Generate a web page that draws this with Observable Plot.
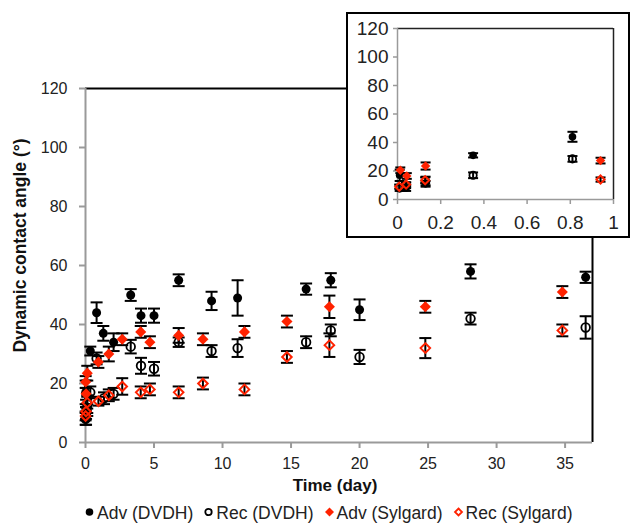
<!DOCTYPE html>
<html><head><meta charset="utf-8">
<script src="https://cdn.jsdelivr.net/npm/d3@7"></script>
<script src="https://cdn.jsdelivr.net/npm/@observablehq/plot@0.6"></script>
<style>
body{margin:0;background:#fff;font-family:"Liberation Sans",Arial,sans-serif;}
#wrap{position:relative;width:630px;height:523px;overflow:hidden;}
#main svg{display:block;}
#inset{position:absolute;left:346px;top:12px;}
#inset svg{border:2px solid #000;display:block;background:#fff;}
#legend{position:absolute;left:84px;top:500px;height:26px;display:flex;align-items:center;font-size:17.5px;color:#222;white-space:nowrap;}
#legend .item{display:flex;align-items:center;margin-right:10px;}
#legend svg{margin-right:2px;}
</style></head><body>
<div id="wrap"><div id="main"></div><div id="inset"></div><div id="legend"></div></div>
<script>
// [day, angle, error]
const advDVDH = [[0.01,17,4],[0.04,8,2],[0.13,11,2],[0.35,31,1.5],[0.81,44,3.5],[1.3,37,2.5],[2.05,34,3],[3.3,50,2],[4.05,43,2.4],[5.0,43,2.4],[6.8,55,2],[9.2,48,3.1],[11.1,49,6],[16.1,52,1.9],[17.9,55,2.4],[20.0,45,3.5],[28.1,58,2.4],[36.5,56,1.9]];
const recDVDH = [[0.01,8,2],[0.04,10,2],[0.13,13,3],[0.35,17,2],[0.81,28.5,2],[1.35,15,2],[2.05,16.5,2],[3.3,32.5,2.3],[4.05,26,2.7],[5.0,25,2.3],[6.8,34,1.6],[9.2,31,2],[11.1,32,3],[16.1,34,2],[17.9,38,2],[20.0,29,2.4],[28.1,42,2],[36.5,39,3.8]];
const advSylgard = [[0.013,20.5,2],[0.043,16.5,2],[0.13,23.5,2.5],[0.94,27.3,2],[1.7,30,2.5],[2.68,35,2],[4.03,37.5,2],[4.7,34,2],[6.8,36.3,2.5],[8.57,35,2],[11.6,37.5,2],[14.7,41,2],[17.8,46,3.8],[24.8,46,2],[34.8,51,2]];
const recSylgard = [[0.008,9,1.5],[0.04,10.5,1.5],[0.128,13.5,2],[0.94,14,1.5],[1.7,16,2],[2.68,19,2.8],[4.03,17,2],[4.7,18,2],[6.8,17,2],[8.57,20,2],[11.6,18,2],[14.7,29,2],[17.8,33,4],[24.8,32,3.4],[34.8,38,2]];
const seriesNames = ["Adv (DVDH)","Rec (DVDH)","Adv (Sylgard)","Rec (Sylgard)"];
const mainYTicks = [0,20,40,60,80,100,120];
const mainXTicks = [0,5,10,15,20,25,30,35];
const insetYTicks = [0,20,40,60,80,100,120];
const insetXTicks = [0,0.2,0.4,0.6,0.8,1];
const xLabel = "Time (day)";
const yLabel = "Dynamic contact angle (°)";

const RED = "#ff2200";
const series = [
  {data: advDVDH, symbol: "circle", fill: "#000", stroke: "none", r: 4.5, sw: 0},
  {data: recDVDH, symbol: "circle", fill: "none", stroke: "#000", r: 4.3, sw: 1.8},
  {data: advSylgard, symbol: "diamond2", fill: RED, stroke: "none", r: 5, sw: 0},
  {data: recSylgard, symbol: "diamond2", fill: "none", stroke: RED, r: 4.3, sw: 2}
];
const cap = {draw(ctx, size){const r = Math.sqrt(size/Math.PI); ctx.moveTo(-r,0); ctx.lineTo(r,0);}};

function errMarks(data, capR, sw){
  return [
    Plot.ruleX(data, {x: d=>d[0], y1: d=>d[1]-d[2], y2: d=>d[1]+d[2], stroke:"#000", strokeWidth: sw}),
    Plot.dot(data, {x: d=>d[0], y: d=>d[1]+d[2], symbol: cap, r: capR, stroke:"#000", fill:"none", strokeWidth: sw}),
    Plot.dot(data, {x: d=>d[0], y: d=>d[1]-d[2], symbol: cap, r: capR, stroke:"#000", fill:"none", strokeWidth: sw})
  ];
}
function allMarks(filter, k, capR, sw){
  const out = [];
  for (const s of series) out.push(...errMarks(s.data.filter(filter), capR, sw));
  for (const s of series) out.push(Plot.dot(s.data.filter(filter), {x: d=>d[0], y: d=>d[1], symbol: s.symbol, r: s.r*k, fill: s.fill, stroke: s.stroke, strokeWidth: s.sw}));
  return out;
}
const GRAY = "#9a9a9a";
const font = "'Liberation Sans', Arial, sans-serif";

const main = Plot.plot({
  width: 630, height: 500,
  marginLeft: 85, marginRight: 38, marginTop: 88, marginBottom: 58,
  style: {fontFamily: font, fontSize: "16px", color: "#222", background: "#fff"},
  x: {domain: [0, 37]},
  y: {domain: [0, 120]},
  marks: [
    Plot.ruleY([120], {stroke: "#000", strokeWidth: 2}),
    Plot.ruleX([37], {stroke: "#000", strokeWidth: 2}),
    Plot.axisY({ticks: mainYTicks, tickSize: 6, tickPadding: 12, stroke: GRAY, strokeWidth: 2, label: null, fontSize: 16}),
    Plot.axisX({ticks: mainXTicks, tickSize: 6, tickPadding: 9, stroke: GRAY, strokeWidth: 2, label: null, fontSize: 16}),
    Plot.ruleX([0], {stroke: GRAY, strokeWidth: 2}),
    Plot.ruleY([0], {stroke: GRAY, strokeWidth: 2}),
    ...allMarks(() => true, 1, 6, 2),
    Plot.text([xLabel], {text: d=>d, frameAnchor: "bottom", dy: 48, dx: -4, fontWeight: "bold", fontSize: 17, fill: "#111"}),
    Plot.text([yLabel], {text: d=>d, frameAnchor: "left", textAnchor: "middle", dx: -65, dy: -20, rotate: -90, fontWeight: "bold", fontSize: 17.5, fill: "#111"})
  ]
});
document.getElementById("main").appendChild(main);

const inset = Plot.plot({
  width: 280, height: 222,
  marginLeft: 49, marginRight: 15, marginTop: 14, marginBottom: 37,
  style: {fontFamily: font, fontSize: "19px", color: "#222", background: "#fff"},
  x: {domain: [0, 1]},
  y: {domain: [0, 120]},
  marks: [
    Plot.ruleY([120], {stroke: "#222", strokeWidth: 1.5}),
    Plot.ruleX([1], {stroke: "#222", strokeWidth: 1.5}),
    Plot.axisY({ticks: insetYTicks, tickSize: 4, tickPadding: 5, stroke: GRAY, strokeWidth: 1.5, label: null, fontSize: 19}),
    Plot.axisX({ticks: insetXTicks, tickFormat: d => String(+d.toFixed(1)), tickSize: 5, tickPadding: 11, stroke: GRAY, strokeWidth: 1.5, label: null, fontSize: 19}),
    Plot.ruleX([0], {stroke: GRAY, strokeWidth: 1.5}),
    Plot.ruleY([0], {stroke: GRAY, strokeWidth: 1.5}),
    ...allMarks(d => d[0] <= 1, 0.85, 5, 2)
  ]
});
document.getElementById("inset").appendChild(inset);

// legend
const legend = document.getElementById("legend");
const ns = "http://www.w3.org/2000/svg";
series.forEach((s, i) => {
  const item = document.createElement("div");
  item.className = "item";
  const svg = document.createElementNS(ns, "svg");
  svg.setAttribute("width", 11); svg.setAttribute("height", 12);
  let shape;
  if (s.symbol === "circle") {
    shape = document.createElementNS(ns, "circle");
    shape.setAttribute("cx", 5.5); shape.setAttribute("cy", 5); shape.setAttribute("r", s.fill === "none" ? 3.2 : 3.8);
  } else {
    shape = document.createElementNS(ns, "path");
    shape.setAttribute("d", s.fill === "none" ? "M5.5,1.5L9,5L5.5,8.5L2,5Z" : "M5.5,0.5L10,5L5.5,9.5L1,5Z");
  }
  shape.setAttribute("fill", s.fill);
  shape.setAttribute("stroke", s.stroke);
  shape.setAttribute("stroke-width", s.fill === "none" ? 1.8 : 0);
  svg.appendChild(shape);
  item.appendChild(svg);
  const t = document.createElement("span");
  t.textContent = seriesNames[i];
  item.appendChild(t);
  legend.appendChild(item);
});
</script>
</body></html>
